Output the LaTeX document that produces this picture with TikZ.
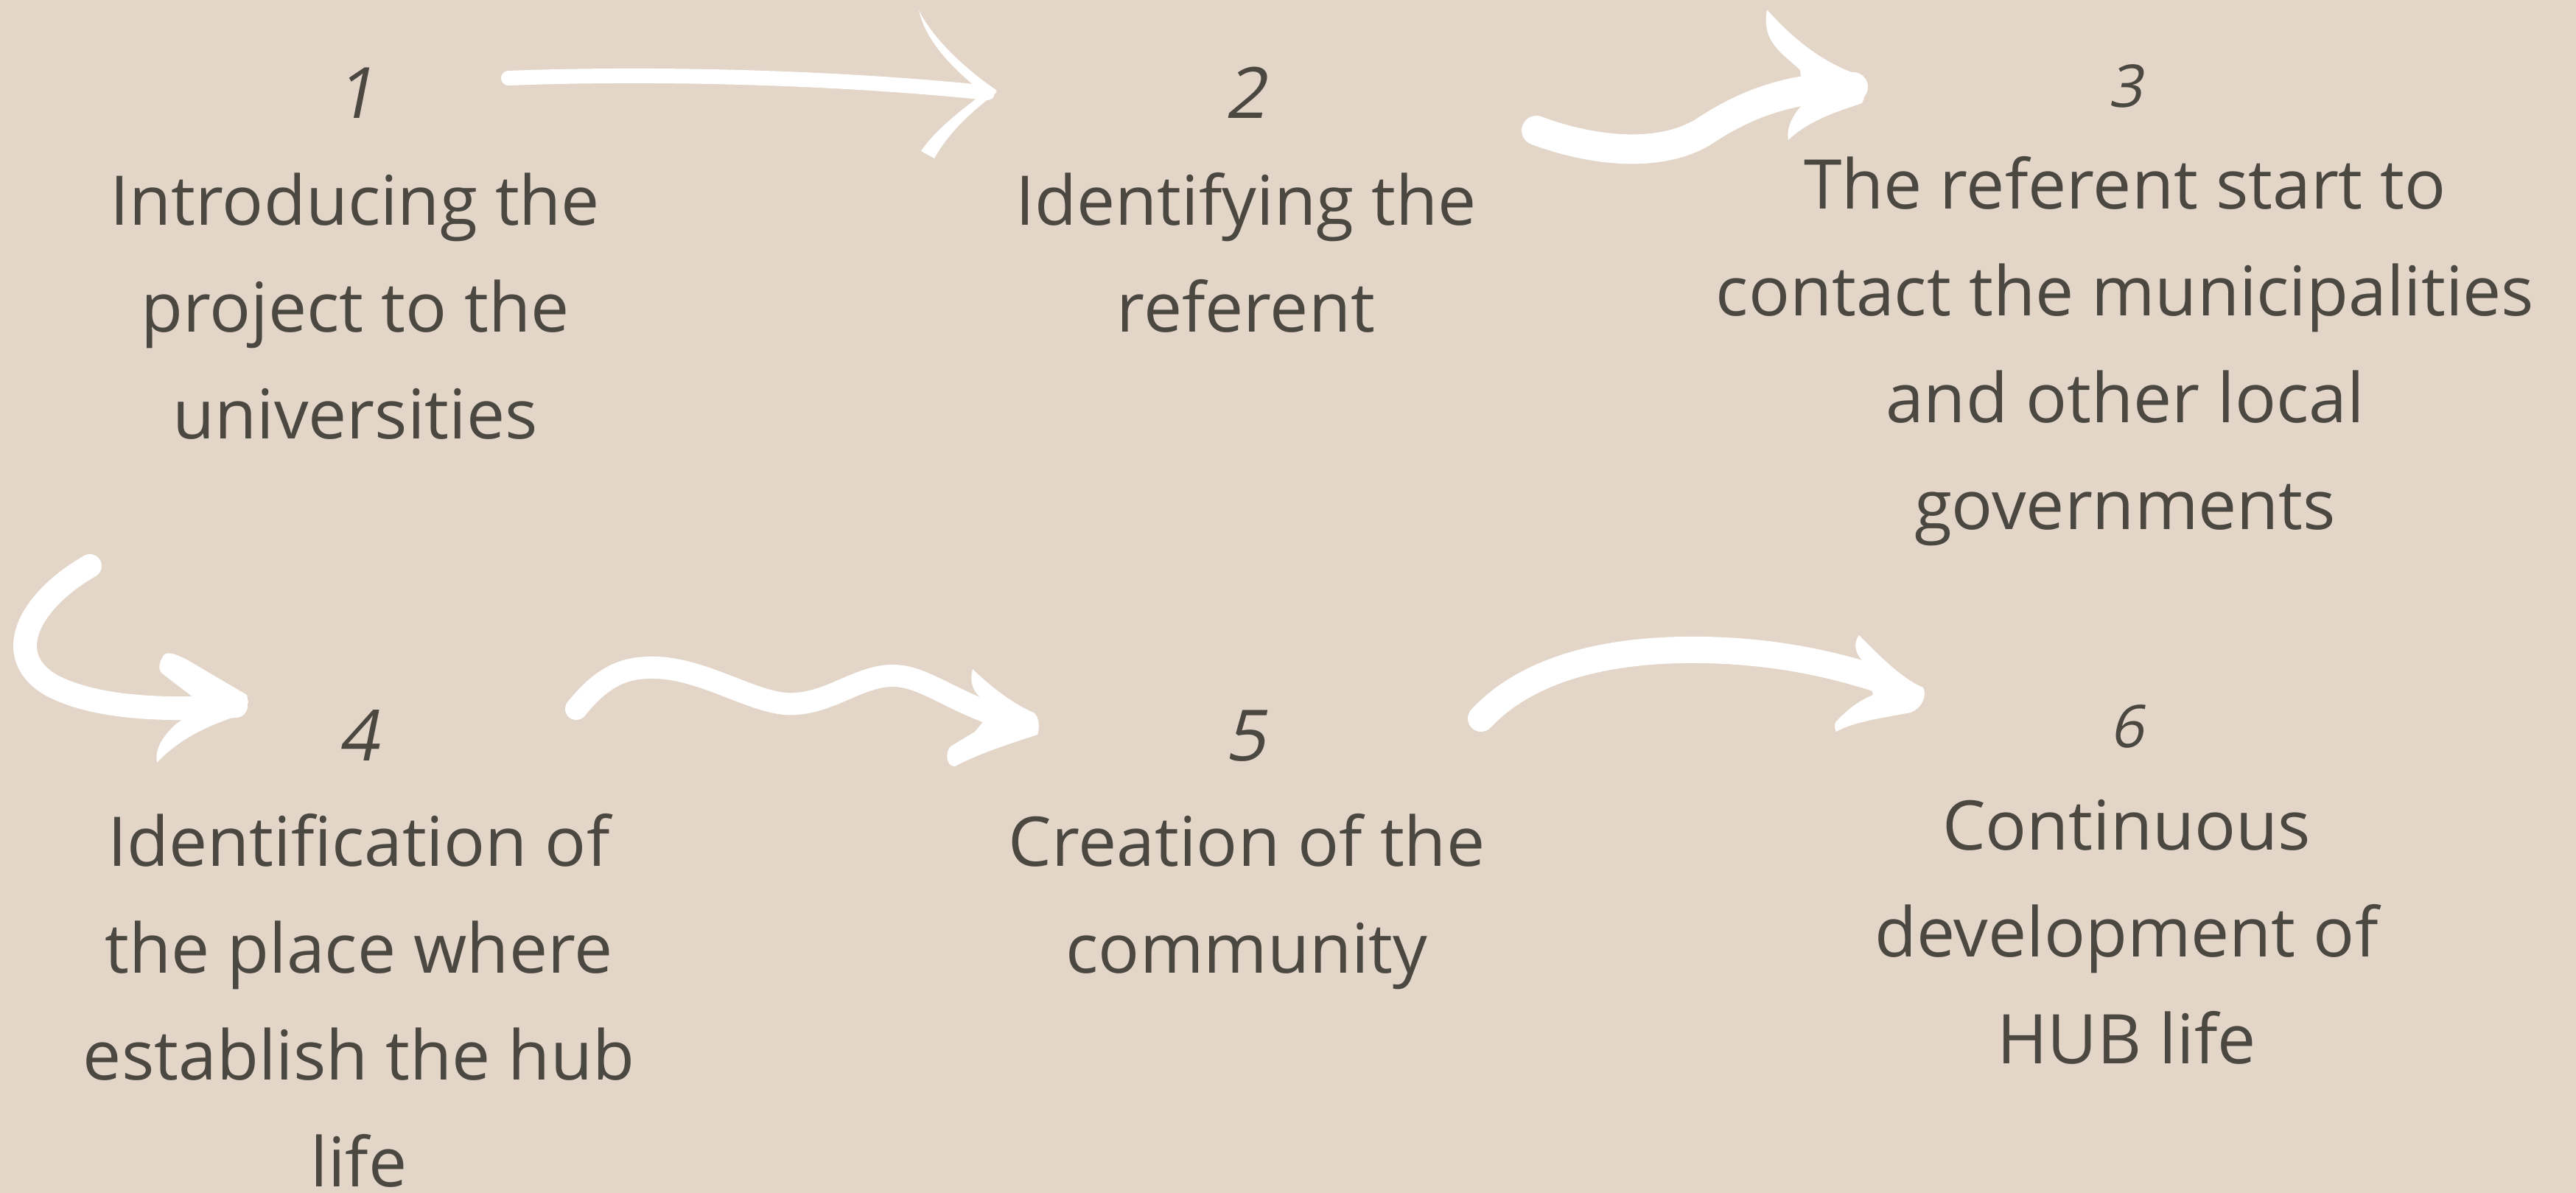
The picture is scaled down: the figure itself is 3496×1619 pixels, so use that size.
\documentclass[tikz,border=0pt]{standalone}
\usepackage{fontspec}
\setmainfont{Open Sans}
\newfontfamily\numfont{Open Sans}[FakeSlant=0.2]
\usetikzlibrary{calc}
\definecolor{bg}{RGB}{227,213,199}
\definecolor{ink}{RGB}{75,71,65}
\begin{document}
\begin{tikzpicture}[x=1pt,y=-1pt,
  steptext/.style={text=ink, align=center, font=\fontsize{93}{145}\selectfont, anchor=base, inner sep=0pt},
  stepnum/.style={text=ink, font=\fontsize{96}{100}\selectfont\numfont, anchor=base, inner sep=0pt},
  smallnum/.style={stepnum, font=\fontsize{80}{90}\selectfont\numfont},
  brush/.style={draw=white, line cap=round, line join=round},
  head/.style={fill=white}]
\useasboundingbox (0,0) rectangle (3496,1619);
\fill[bg] (0,0) rectangle (3496,1619);

% ---- steps (text nodes anchored at the baseline of their last line) ----
\node[stepnum] (n1) at (482,160) {1};
\node[steptext] (t1) at (482,595) {Introducing the\\project to the\\universities};
\node[stepnum] (n2) at (1690,160) {2};
\node[steptext] (t2) at (1691,450) {Identifying the\\referent};
\node[smallnum] (n3) at (2884,145) {3};
\node[steptext] (t3) at (2884,718) {The referent start to\\contact the municipalities\\and other local\\governments};
\node[stepnum] (n4) at (486,1032) {4};
\node[steptext] (t4) at (487,1610) {Identification of\\the place where\\establish the hub\\life};
\node[stepnum] (n5) at (1690,1032) {5};
\node[steptext] (t5) at (1692,1320) {Creation of the\\community};
\node[smallnum] (n6) at (2886,1014) {6};
\node[steptext] (t6) at (2886,1443) {Continuous\\development of\\HUB life};

% ---- arrow ends ----
\coordinate (a1s) at (690,106);  \coordinate (a1e) at (1340,126); \coordinate (T1) at (1350,125);
\coordinate (a2s) at (2085,177); \coordinate (a2e) at (2515,118); \coordinate (T2) at (2530,118);
\coordinate (a3s) at (122,768);  \coordinate (a3e) at (320,958);  \coordinate (T3) at (335,946);
\coordinate (a4s) at (782,962);  \coordinate (a4e) at (1390,982); \coordinate (T4) at (1408,985);
\coordinate (a5s) at (2010,975); \coordinate (a5e) at (2560,925); \coordinate (T5) at (2610,935);

% arrow 1 -> 2
\draw[brush, line width=20pt] (a1s) .. controls (900,98) and (1150,106) .. (a1e);
\begin{scope}[shift={(T1)}]
\fill[head] (-103,-111) .. controls (-85,-75) and (-45,-35) .. (3,-2) -- (-12,4) .. controls (-45,-22) and (-92,-62) .. (-103,-111) -- cycle;
\fill[head] (3,0) .. controls (-25,22) and (-60,50) .. (-82,90) -- (-100,80) .. controls (-80,50) and (-40,20) .. (-8,-4) -- cycle;
\end{scope}

% arrow 2 -> 3
\draw[brush, line width=40pt] (a2s) .. controls (2160,205) and (2250,215) .. (2310,180) .. controls (2370,140) and (2430,118) .. (a2e);
\begin{scope}[shift={(T2)}]
\fill[head] (-132,-105) .. controls (-90,-58) and (-50,-30) .. (-3,-15) .. controls (3,-5) and (3,10) .. (-3,22) .. controls (-35,33) and (-75,45) .. (-103,72) .. controls (-106,60) and (-100,40) .. (-82,22) -- (-87,-23) .. controls (-110,-45) and (-140,-60) .. (-132,-105) -- cycle;
\end{scope}

% arrow 3 -> 4
\draw[brush, line width=32pt] (a3s) .. controls (40,815) and (0,890) .. (70,930) .. controls (130,962) and (230,965) .. (a3e);
\begin{scope}[shift={(T3)}]
\fill[head] (-112,-58) .. controls (-105,-62) and (-95,-58) .. (-80,-50) -- (0,-3) -- (2,8) -- (-68,4) -- (-115,-32) .. controls (-122,-38) and (-118,-50) .. cycle;
\fill[head] (2,5) .. controls (0,15) and (-5,22) .. (-20,28) .. controls (-60,42) and (-95,60) .. (-122,89) .. controls (-125,70) and (-115,55) .. (-98,38) -- (-60,10) -- cycle;
\end{scope}

% arrow 4 -> 5
\draw[brush, line width=30pt] (a4s) .. controls (820,915) and (850,905) .. (890,906) .. controls (960,908) and (1030,960) .. (1080,955) .. controls (1130,952) and (1170,915) .. (1215,917) .. controls (1260,919) and (1300,960) .. (a4e);
\begin{scope}[shift={(T4)}]
\fill[head] (-88,-77) .. controls (-60,-50) and (-30,-28) .. (-5,-18) .. controls (3,-12) and (3,5) .. (0,12) .. controls (-40,25) and (-80,38) .. (-112,55) .. controls (-125,55) and (-125,35) .. (-118,28) -- (-85,8) -- (-60,-22) .. controls (-80,-40) and (-95,-50) .. (-88,-77) -- cycle;
\end{scope}

% arrow 5 -> 6
\draw[brush, line width=36pt] (a5s) .. controls (2080,900) and (2200,880) .. (2312,882) .. controls (2420,884) and (2500,905) .. (a5e);
\begin{scope}[shift={(T5)}]
\fill[head] (-87,-73) .. controls (-55,-40) and (-25,-12) .. (0,-2) .. controls (5,8) and (0,25) .. (-17,32) .. controls (-60,40) and (-95,45) .. (-118,58) .. controls (-122,50) and (-120,45) .. (-116,42) .. controls (-100,25) and (-85,15) .. (-68,8) -- (-81,-37) .. controls (-90,-45) and (-97,-60) .. (-87,-73) -- cycle;
\end{scope}
\end{tikzpicture}
\end{document}
